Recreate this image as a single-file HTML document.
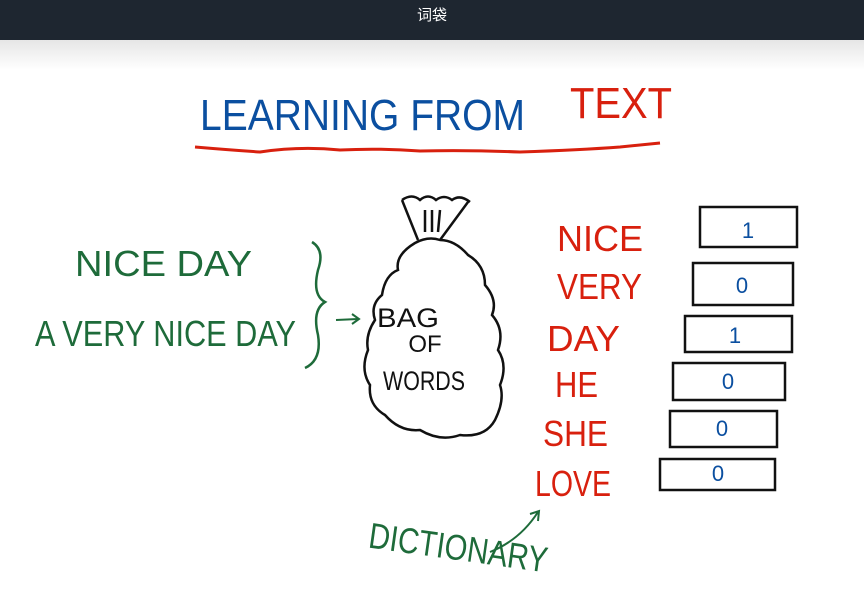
<!DOCTYPE html>
<html><head><meta charset="utf-8"><style>
body{margin:0;width:864px;height:602px;overflow:hidden;background:#fff;font-family:"Liberation Sans","Noto Sans CJK SC",sans-serif}
.bar{position:absolute;left:0;top:0;width:864px;height:40px;background:#1e2630;color:#fff;text-align:center;line-height:32px;font-size:15px}
.sh{position:absolute;left:0;top:40px;width:864px;height:30px;background:linear-gradient(#e6e6e6,#fff)}
svg{position:absolute;left:0;top:0}
text{font-family:"Liberation Sans Narrow","Liberation Sans",sans-serif}
</style></head><body>
<div class="sh"></div>
<div class="bar">词袋</div>
<svg width="864" height="602" viewBox="0 0 864 602">
<g font-size="44">
<text x="200" y="130" fill="#0b4fa0" textLength="325" lengthAdjust="spacingAndGlyphs">LEARNING FROM</text>
<text x="570" y="118" fill="#d8200e" textLength="102" lengthAdjust="spacingAndGlyphs">TEXT</text>
</g>
<path d="M195 147 Q230 150 260 152 Q300 146 340 150 Q380 148 420 151 Q470 150 520 152 Q580 150 620 147 L660 143" stroke="#d8200e" stroke-width="3" fill="none"/>
<g fill="#1e6b3a" font-size="36">
<text x="75" y="276" textLength="177" lengthAdjust="spacingAndGlyphs">NICE DAY</text>
<text x="35" y="346" textLength="261" lengthAdjust="spacingAndGlyphs">A VERY NICE DAY</text>
<text x="368" y="560" textLength="180" lengthAdjust="spacingAndGlyphs" transform="rotate(8 458 550)">DICTIONARY</text>
</g>
<path d="M312 242 Q325 250 318 270 Q312 295 325 302 Q312 310 318 335 Q322 360 305 368" stroke="#1e6b3a" stroke-width="2.5" fill="none"/>
<path d="M336 320 L358 319 M352 314 L359 319 L352 324" stroke="#1e6b3a" stroke-width="2" fill="none"/>
<path d="M490 552 Q520 540 538 512 M530 514 L539 511 L538 521" stroke="#1e6b3a" stroke-width="2" fill="none"/>
<g stroke="#111" stroke-width="2.5" fill="none">
<path d="M415 243 Q395 255 398 270 Q385 275 382 295 Q370 305 375 320 Q365 335 368 350 Q360 370 370 385 Q368 405 385 415 Q400 432 420 430 Q440 442 460 435 Q485 438 495 420 Q505 400 500 385 Q508 365 498 350 Q505 330 492 315 Q498 300 485 285 Q485 265 468 255 Q455 240 440 240 Q428 236 415 243 Z"/>
<path d="M418 240 L402 200 M440 240 L468 202 M402 200 Q412 193 420 200 Q428 193 436 200 Q444 194 452 200 Q460 194 470 202 M425 232 L425 210 M432 232 L432 210 M438 232 L440 210"/>
<rect x="700" y="207" width="97" height="40"/>
<rect x="693" y="263" width="100" height="42"/>
<rect x="685" y="316" width="107" height="36"/>
<rect x="673" y="363" width="112" height="37"/>
<rect x="670" y="411" width="107" height="36"/>
<rect x="660" y="459" width="115" height="31"/>
</g>
<g fill="#111" font-size="27" text-anchor="middle">
<text x="408" y="327" textLength="62" lengthAdjust="spacingAndGlyphs">BAG</text>
<text x="425" y="352" font-size="24">OF</text>
<text x="424" y="390" textLength="82" lengthAdjust="spacingAndGlyphs">WORDS</text>
</g>
<g fill="#d8200e" font-size="36">
<text x="557" y="251" textLength="86" lengthAdjust="spacingAndGlyphs">NICE</text>
<text x="557" y="299" textLength="85" lengthAdjust="spacingAndGlyphs">VERY</text>
<text x="547" y="351" textLength="73" lengthAdjust="spacingAndGlyphs">DAY</text>
<text x="555" y="397" textLength="43" lengthAdjust="spacingAndGlyphs">HE</text>
<text x="543" y="446" textLength="65" lengthAdjust="spacingAndGlyphs">SHE</text>
<text x="535" y="496" textLength="76" lengthAdjust="spacingAndGlyphs">LOVE</text>
</g>
<g fill="#0b4fa0" font-size="22" text-anchor="middle">
<text x="748" y="238">1</text>
<text x="742" y="293">0</text>
<text x="735" y="343">1</text>
<text x="728" y="389">0</text>
<text x="722" y="436">0</text>
<text x="718" y="481">0</text>
</g>
</svg>
</body></html>
